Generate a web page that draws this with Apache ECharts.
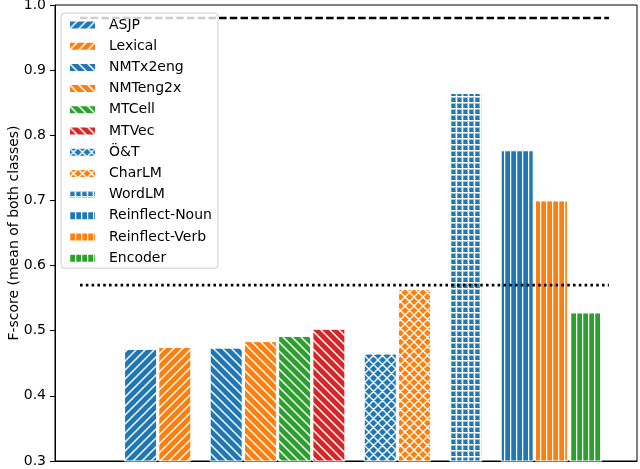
<!DOCTYPE html>
<html>
<head>
<meta charset="utf-8">
<script src="https://cdn.jsdelivr.net/npm/echarts@6/dist/echarts.min.js"></script>
<style>html,body{margin:0;padding:0;background:#fff}#c{width:640px;height:469px}</style>
</head>
<body>
<div id="c"></div>
<script>
const names = ['ASJP','Lexical','NMTx2eng','NMTeng2x','MTCell','MTVec','Ö&T','CharLM','WordLM','Reinflect-Noun','Reinflect-Verb','Encoder'];
const xPos = [2.5, 3.5, 5, 6, 7, 8, 9.5, 10.5, 12, 13.5, 14.5, 15.5];
const values = [0.472, 0.475, 0.474, 0.484, 0.492, 0.503, 0.465, 0.564, 0.865, 0.777, 0.700, 0.528];
const colors = ['#1f77b4','#ff7f0e','#1f77b4','#ff7f0e','#2ca02c','#d62728','#1f77b4','#ff7f0e','#1f77b4','#1f77b4','#ff7f0e','#2ca02c'];
const hatches = ['/','/','\\','\\','\\','\\','x','x','+','|','|','|'];
const upperRef = 0.98;
const lowerRef = 0.57;
const refSpan = [0.73, 16.18];
const yTicks = [0.3, 0.4, 0.5, 0.6, 0.7, 0.8, 0.9, 1.0];

function makePattern(color, kind) {
  const s = (kind === '/' || kind === '\\') ? 9 : (kind === 'x' ? 9 : 6);
  const c = document.createElement('canvas');
  c.width = s; c.height = s;
  const g = c.getContext('2d');
  g.fillStyle = color; g.fillRect(0, 0, s, s);
  g.strokeStyle = '#ffffff';
  g.lineWidth = kind === 'x' ? 1.4 : 1.5;
  g.beginPath();
  if (kind === '/' || kind === 'x') {
    for (let k = -1; k <= 1; k++) { g.moveTo(k * s - 1, s + 1); g.lineTo(k * s + s + 1, -1); }
  }
  if (kind === '\\' || kind === 'x') {
    for (let k = -1; k <= 1; k++) { g.moveTo(k * s - 1, -1); g.lineTo(k * s + s + 1, s + 1); }
  }
  if (kind === '|' || kind === '+') { g.moveTo(0.5, 0); g.lineTo(0.5, s); }
  if (kind === '+') { g.moveTo(0, 0.5); g.lineTo(s, 0.5); }
  g.stroke();
  if (kind === '+') {
    g.strokeStyle = 'rgba(255,255,255,0.45)';
    g.lineWidth = 1;
    g.beginPath();
    g.moveTo(1.5, 1.5); g.lineTo(s - 0.5, 1.5); g.lineTo(s - 0.5, s - 0.5);
    g.stroke();
  }
  return { image: c, repeat: 'repeat' };
}

const series = names.map((n, i) => ({
  name: n,
  type: 'bar',
  barWidth: 33,
  barGap: '-100%',
  clip: true,
  itemStyle: { color: makePattern(colors[i], hatches[i]), borderColor: '#ffffff', borderWidth: 1 },
  emphasis: { disabled: true },
  data: [[xPos[i], values[i]]]
}));

series.push({
  type: 'line', name: 'upper', symbol: 'none', silent: true, z: 3,
  lineStyle: { color: '#000', width: 2.6, type: [7.5, 3.2] },
  data: [[refSpan[0], upperRef], [refSpan[1], upperRef]]
});
series.push({
  type: 'line', name: 'lower', symbol: 'none', silent: true, z: 3,
  lineStyle: { color: '#000', width: 2.6, type: [2.6, 3.2] },
  data: [[refSpan[0], lowerRef], [refSpan[1], lowerRef]]
});

const chart = echarts.init(document.getElementById('c'), null, { renderer: 'canvas' });
chart.setOption({
  animation: false,
  textStyle: { fontFamily: 'DejaVu Sans' },
  grid: { left: 55, right: 3, top: 5, bottom: 8, containLabel: false, outerBoundsMode: 'none', show: true, borderColor: '#000', borderWidth: 1, backgroundColor: 'transparent' },
  legend: {
    data: names,
    orient: 'vertical',
    left: 61, top: 13,
    padding: [5, 6, 3, 7],
    itemWidth: 27, itemHeight: 9, itemGap: 7.2,
    icon: 'rect',
    backgroundColor: 'rgba(255,255,255,0.8)',
    borderColor: '#cccccc', borderWidth: 1, borderRadius: 3,
    selectedMode: false,
    textStyle: { fontSize: 14, color: '#000', lineHeight: 14, padding: [0, 0, 0, 8], fontFamily: 'DejaVu Sans' }
  },
  xAxis: {
    type: 'value', min: 0, max: 17,
    axisLine: { show: true, lineStyle: { color: '#000', width: 1 } },
    axisTick: { show: false }, axisLabel: { show: false }, splitLine: { show: false }
  },
  yAxis: {
    type: 'value', min: yTicks[0], max: yTicks[yTicks.length - 1], interval: 0.1,
    name: 'F-score (mean of both classes)',
    nameLocation: 'middle', nameGap: 34, nameRotate: 90, nameMoveOverlap: false,
    nameTextStyle: { fontSize: 14, color: '#000', fontFamily: 'DejaVu Sans' },
    axisLine: { show: true, lineStyle: { color: '#000', width: 1 } },
    axisTick: { show: true, inside: false, length: 5, lineStyle: { color: '#000' } },
    axisLabel: { fontSize: 14, color: '#000', margin: 9, fontFamily: 'DejaVu Sans', formatter: v => v.toFixed(1) },
    splitLine: { show: false }
  },
  series: series
});
</script>
</body>
</html>
